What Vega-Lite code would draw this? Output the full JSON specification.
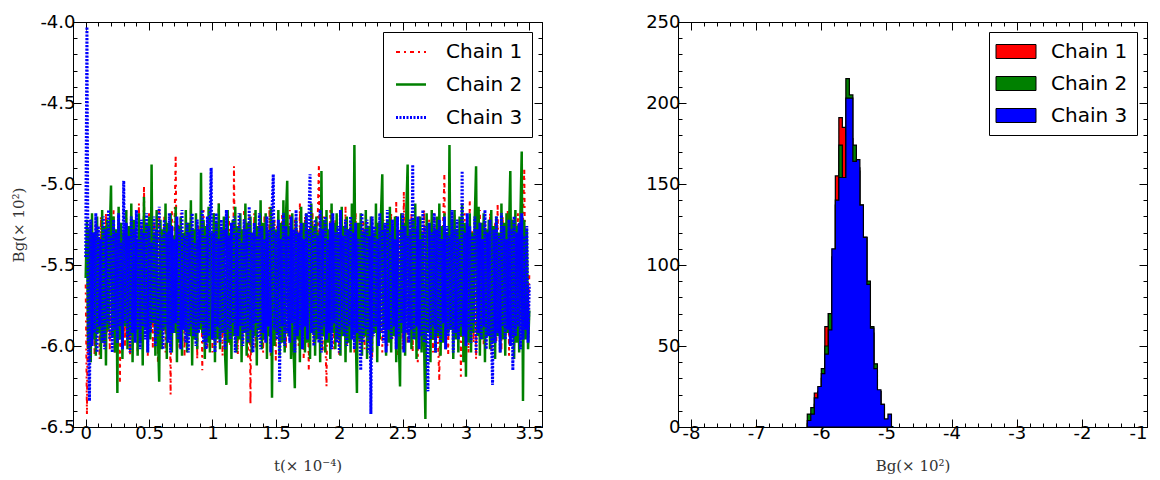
{
"$schema": "https://vega.github.io/schema/vega-lite/v6.json",
"background": "white",
"padding": {"left": 10, "top": 12, "right": 5, "bottom": 5},
"bounds": "flush",
"spacing": 136,
"resolve": {"scale": {"color": "independent", "fill": "independent", "strokeDash": "independent", "strokeWidth": "independent"}, "legend": {"color": "independent", "fill": "independent", "strokeDash": "independent", "strokeWidth": "independent"}},
"config": {
  "view": {"stroke": "black", "strokeWidth": 1},
  "axis": {"domain": false, "grid": false, "labelFont": "DejaVu Sans", "labelFontSize": 18, "labelColor": "black", "tickColor": "black", "tickWidth": 1, "titleFont": "DejaVu Serif", "titleFontSize": 15, "titleFontWeight": "normal", "titleColor": "#333333"}
},
"datasets": {
"trace": [
{"c":"Chain 1","t":0,"v":-5.62},{"c":"Chain 1","t":0.01,"v":-6.42},{"c":"Chain 1","t":0.02,"v":-5.30},{"c":"Chain 1","t":0.03,"v":-6.10},{"c":"Chain 1","t":0.04,"v":-5.22},{"c":"Chain 1","t":0.05,"v":-5.95},{"c":"Chain 1","t":0.06,"v":-5.40},{"c":"Chain 1","t":0.07,"v":-6.05},{"c":"Chain 1","t":0.08,"v":-5.25},{"c":"Chain 1","t":0.09,"v":-5.90},
{"c":"Chain 1","t":0.1,"v":-5.35},{"c":"Chain 1","t":0.11,"v":-6.08},{"c":"Chain 1","t":0.12,"v":-5.20},{"c":"Chain 1","t":0.13,"v":-5.85},{"c":"Chain 1","t":0.14,"v":-5.32},{"c":"Chain 1","t":0.15,"v":-6.00},{"c":"Chain 1","t":0.16,"v":-5.18},{"c":"Chain 1","t":0.17,"v":-5.92},{"c":"Chain 1","t":0.18,"v":-5.38},{"c":"Chain 1","t":0.19,"v":-6.02},
{"c":"Chain 1","t":0.2,"v":-5.26},{"c":"Chain 1","t":0.21,"v":-5.88},{"c":"Chain 1","t":0.22,"v":-5.15},{"c":"Chain 1","t":0.23,"v":-6.05},{"c":"Chain 1","t":0.24,"v":-5.30},{"c":"Chain 1","t":0.25,"v":-5.96},{"c":"Chain 1","t":0.26,"v":-5.22},{"c":"Chain 1","t":0.27,"v":-6.23},{"c":"Chain 1","t":0.28,"v":-5.40},{"c":"Chain 1","t":0.29,"v":-5.90},
{"c":"Chain 1","t":0.3,"v":-5.28},{"c":"Chain 1","t":0.31,"v":-6.00},{"c":"Chain 1","t":0.32,"v":-5.16},{"c":"Chain 1","t":0.33,"v":-5.86},{"c":"Chain 1","t":0.34,"v":-5.34},{"c":"Chain 1","t":0.35,"v":-6.06},{"c":"Chain 1","t":0.36,"v":-5.20},{"c":"Chain 1","t":0.37,"v":-5.94},{"c":"Chain 1","t":0.38,"v":-5.26},{"c":"Chain 1","t":0.39,"v":-5.84},
{"c":"Chain 1","t":0.4,"v":-5.32},{"c":"Chain 1","t":0.41,"v":-6.04},{"c":"Chain 1","t":0.42,"v":-5.12},{"c":"Chain 1","t":0.43,"v":-5.92},{"c":"Chain 1","t":0.44,"v":-5.24},{"c":"Chain 1","t":0.45,"v":-5.98},{"c":"Chain 1","t":0.46,"v":-5.01},{"c":"Chain 1","t":0.47,"v":-5.88},{"c":"Chain 1","t":0.48,"v":-5.30},{"c":"Chain 1","t":0.49,"v":-6.06},
{"c":"Chain 1","t":0.5,"v":-5.18},{"c":"Chain 1","t":0.51,"v":-5.90},{"c":"Chain 1","t":0.52,"v":-5.36},{"c":"Chain 1","t":0.53,"v":-6.02},{"c":"Chain 1","t":0.54,"v":-5.22},{"c":"Chain 1","t":0.55,"v":-5.86},{"c":"Chain 1","t":0.56,"v":-5.28},{"c":"Chain 1","t":0.57,"v":-6.10},{"c":"Chain 1","t":0.58,"v":-5.15},{"c":"Chain 1","t":0.59,"v":-5.96},
{"c":"Chain 1","t":0.6,"v":-5.34},{"c":"Chain 1","t":0.61,"v":-5.88},{"c":"Chain 1","t":0.62,"v":-5.20},{"c":"Chain 1","t":0.63,"v":-6.04},{"c":"Chain 1","t":0.64,"v":-5.26},{"c":"Chain 1","t":0.65,"v":-5.94},{"c":"Chain 1","t":0.66,"v":-5.38},{"c":"Chain 1","t":0.67,"v":-6.30},{"c":"Chain 1","t":0.68,"v":-5.16},{"c":"Chain 1","t":0.69,"v":-5.92},
{"c":"Chain 1","t":0.7,"v":-5.30},{"c":"Chain 1","t":0.71,"v":-4.82},{"c":"Chain 1","t":0.72,"v":-5.74},{"c":"Chain 1","t":0.73,"v":-5.24},{"c":"Chain 1","t":0.74,"v":-6.02},{"c":"Chain 1","t":0.75,"v":-5.18},{"c":"Chain 1","t":0.76,"v":-5.90},{"c":"Chain 1","t":0.77,"v":-5.36},{"c":"Chain 1","t":0.78,"v":-6.06},{"c":"Chain 1","t":0.79,"v":-5.22},
{"c":"Chain 1","t":0.8,"v":-5.96},{"c":"Chain 1","t":0.81,"v":-5.28},{"c":"Chain 1","t":0.82,"v":-5.86},{"c":"Chain 1","t":0.83,"v":-5.14},{"c":"Chain 1","t":0.84,"v":-6.00},{"c":"Chain 1","t":0.85,"v":-5.32},{"c":"Chain 1","t":0.86,"v":-5.92},{"c":"Chain 1","t":0.87,"v":-5.20},{"c":"Chain 1","t":0.88,"v":-6.08},{"c":"Chain 1","t":0.89,"v":-5.26},
{"c":"Chain 1","t":0.9,"v":-5.88},{"c":"Chain 1","t":0.91,"v":-5.40},{"c":"Chain 1","t":0.92,"v":-6.15},{"c":"Chain 1","t":0.93,"v":-5.16},{"c":"Chain 1","t":0.94,"v":-5.94},{"c":"Chain 1","t":0.95,"v":-5.30},{"c":"Chain 1","t":0.96,"v":-6.02},{"c":"Chain 1","t":0.97,"v":-5.22},{"c":"Chain 1","t":0.98,"v":-5.86},{"c":"Chain 1","t":0.99,"v":-5.34},
{"c":"Chain 1","t":1,"v":-6.04},{"c":"Chain 1","t":1.01,"v":-5.18},{"c":"Chain 1","t":1.02,"v":-5.92},{"c":"Chain 1","t":1.03,"v":-5.28},{"c":"Chain 1","t":1.04,"v":-5.98},{"c":"Chain 1","t":1.05,"v":-5.12},{"c":"Chain 1","t":1.06,"v":-5.88},{"c":"Chain 1","t":1.07,"v":-5.36},{"c":"Chain 1","t":1.08,"v":-6.06},{"c":"Chain 1","t":1.09,"v":-5.24},
{"c":"Chain 1","t":1.1,"v":-5.94},{"c":"Chain 1","t":1.11,"v":-5.30},{"c":"Chain 1","t":1.12,"v":-5.86},{"c":"Chain 1","t":1.13,"v":-5.20},{"c":"Chain 1","t":1.14,"v":-6.00},{"c":"Chain 1","t":1.15,"v":-5.26},{"c":"Chain 1","t":1.16,"v":-5.90},{"c":"Chain 1","t":1.17,"v":-4.89},{"c":"Chain 1","t":1.18,"v":-5.84},{"c":"Chain 1","t":1.19,"v":-5.32},
{"c":"Chain 1","t":1.2,"v":-6.05},{"c":"Chain 1","t":1.21,"v":-5.22},{"c":"Chain 1","t":1.22,"v":-5.92},{"c":"Chain 1","t":1.23,"v":-5.34},{"c":"Chain 1","t":1.24,"v":-5.98},{"c":"Chain 1","t":1.25,"v":-5.16},{"c":"Chain 1","t":1.26,"v":-5.88},{"c":"Chain 1","t":1.27,"v":-5.28},{"c":"Chain 1","t":1.28,"v":-6.08},{"c":"Chain 1","t":1.29,"v":-5.20},
{"c":"Chain 1","t":1.3,"v":-6.36},{"c":"Chain 1","t":1.31,"v":-5.40},{"c":"Chain 1","t":1.32,"v":-5.90},{"c":"Chain 1","t":1.33,"v":-5.18},{"c":"Chain 1","t":1.34,"v":-6.02},{"c":"Chain 1","t":1.35,"v":-5.30},{"c":"Chain 1","t":1.36,"v":-5.86},{"c":"Chain 1","t":1.37,"v":-5.24},{"c":"Chain 1","t":1.38,"v":-5.96},{"c":"Chain 1","t":1.39,"v":-5.36},
{"c":"Chain 1","t":1.4,"v":-6.04},{"c":"Chain 1","t":1.41,"v":-5.20},{"c":"Chain 1","t":1.42,"v":-5.92},{"c":"Chain 1","t":1.43,"v":-5.28},{"c":"Chain 1","t":1.44,"v":-5.88},{"c":"Chain 1","t":1.45,"v":-5.14},{"c":"Chain 1","t":1.46,"v":-6.06},{"c":"Chain 1","t":1.47,"v":-5.32},{"c":"Chain 1","t":1.48,"v":-5.94},{"c":"Chain 1","t":1.49,"v":-5.22},
{"c":"Chain 1","t":1.5,"v":-6.10},{"c":"Chain 1","t":1.51,"v":-5.26},{"c":"Chain 1","t":1.52,"v":-5.86},{"c":"Chain 1","t":1.53,"v":-5.38},{"c":"Chain 1","t":1.54,"v":-5.98},{"c":"Chain 1","t":1.55,"v":-5.18},{"c":"Chain 1","t":1.56,"v":-5.90},{"c":"Chain 1","t":1.57,"v":-5.30},{"c":"Chain 1","t":1.58,"v":-6.02},{"c":"Chain 1","t":1.59,"v":-5.24},
{"c":"Chain 1","t":1.6,"v":-5.94},{"c":"Chain 1","t":1.61,"v":-5.16},{"c":"Chain 1","t":1.62,"v":-5.88},{"c":"Chain 1","t":1.63,"v":-5.34},{"c":"Chain 1","t":1.64,"v":-6.06},{"c":"Chain 1","t":1.65,"v":-5.22},{"c":"Chain 1","t":1.66,"v":-5.92},{"c":"Chain 1","t":1.67,"v":-5.28},{"c":"Chain 1","t":1.68,"v":-6.00},{"c":"Chain 1","t":1.69,"v":-5.12},
{"c":"Chain 1","t":1.7,"v":-5.86},{"c":"Chain 1","t":1.71,"v":-5.30},{"c":"Chain 1","t":1.72,"v":-6.08},{"c":"Chain 1","t":1.73,"v":-5.20},{"c":"Chain 1","t":1.74,"v":-5.94},{"c":"Chain 1","t":1.75,"v":-5.36},{"c":"Chain 1","t":1.76,"v":-6.15},{"c":"Chain 1","t":1.77,"v":-5.26},{"c":"Chain 1","t":1.78,"v":-5.90},{"c":"Chain 1","t":1.79,"v":-5.18},
{"c":"Chain 1","t":1.8,"v":-6.00},{"c":"Chain 1","t":1.81,"v":-5.32},{"c":"Chain 1","t":1.82,"v":-5.88},{"c":"Chain 1","t":1.83,"v":-5.24},{"c":"Chain 1","t":1.84,"v":-4.88},{"c":"Chain 1","t":1.85,"v":-5.82},{"c":"Chain 1","t":1.86,"v":-5.30},{"c":"Chain 1","t":1.87,"v":-6.04},{"c":"Chain 1","t":1.88,"v":-5.20},{"c":"Chain 1","t":1.89,"v":-5.92},
{"c":"Chain 1","t":1.9,"v":-6.25},{"c":"Chain 1","t":1.91,"v":-5.28},{"c":"Chain 1","t":1.92,"v":-5.96},{"c":"Chain 1","t":1.93,"v":-5.16},{"c":"Chain 1","t":1.94,"v":-5.86},{"c":"Chain 1","t":1.95,"v":-5.34},{"c":"Chain 1","t":1.96,"v":-6.02},{"c":"Chain 1","t":1.97,"v":-5.22},{"c":"Chain 1","t":1.98,"v":-5.90},{"c":"Chain 1","t":1.99,"v":-5.30},
{"c":"Chain 1","t":2,"v":-6.06},{"c":"Chain 1","t":2.01,"v":-5.20},{"c":"Chain 1","t":2.02,"v":-5.92},{"c":"Chain 1","t":2.03,"v":-5.36},{"c":"Chain 1","t":2.04,"v":-5.88},{"c":"Chain 1","t":2.05,"v":-5.14},{"c":"Chain 1","t":2.06,"v":-6.00},{"c":"Chain 1","t":2.07,"v":-5.28},{"c":"Chain 1","t":2.08,"v":-5.94},{"c":"Chain 1","t":2.09,"v":-5.24},
{"c":"Chain 1","t":2.1,"v":-5.86},{"c":"Chain 1","t":2.11,"v":-5.32},{"c":"Chain 1","t":2.12,"v":-6.04},{"c":"Chain 1","t":2.13,"v":-5.18},{"c":"Chain 1","t":2.14,"v":-5.90},{"c":"Chain 1","t":2.15,"v":-5.26},{"c":"Chain 1","t":2.16,"v":-5.98},{"c":"Chain 1","t":2.17,"v":-5.38},{"c":"Chain 1","t":2.18,"v":-5.88},{"c":"Chain 1","t":2.19,"v":-5.22},
{"c":"Chain 1","t":2.2,"v":-6.02},{"c":"Chain 1","t":2.21,"v":-5.16},{"c":"Chain 1","t":2.22,"v":-5.94},{"c":"Chain 1","t":2.23,"v":-5.30},{"c":"Chain 1","t":2.24,"v":-5.86},{"c":"Chain 1","t":2.25,"v":-5.24},{"c":"Chain 1","t":2.26,"v":-6.08},{"c":"Chain 1","t":2.27,"v":-5.34},{"c":"Chain 1","t":2.28,"v":-5.92},{"c":"Chain 1","t":2.29,"v":-5.20},
{"c":"Chain 1","t":2.3,"v":-5.98},{"c":"Chain 1","t":2.31,"v":-5.28},{"c":"Chain 1","t":2.32,"v":-5.88},{"c":"Chain 1","t":2.33,"v":-5.14},{"c":"Chain 1","t":2.34,"v":-6.04},{"c":"Chain 1","t":2.35,"v":-5.22},{"c":"Chain 1","t":2.36,"v":-5.90},{"c":"Chain 1","t":2.37,"v":-5.36},{"c":"Chain 1","t":2.38,"v":-6.00},{"c":"Chain 1","t":2.39,"v":-5.26},
{"c":"Chain 1","t":2.4,"v":-5.86},{"c":"Chain 1","t":2.41,"v":-5.18},{"c":"Chain 1","t":2.42,"v":-5.96},{"c":"Chain 1","t":2.43,"v":-5.30},{"c":"Chain 1","t":2.44,"v":-5.92},{"c":"Chain 1","t":2.45,"v":-5.10},{"c":"Chain 1","t":2.46,"v":-6.06},{"c":"Chain 1","t":2.47,"v":-5.28},{"c":"Chain 1","t":2.48,"v":-5.88},{"c":"Chain 1","t":2.49,"v":-5.34},
{"c":"Chain 1","t":2.5,"v":-6.02},{"c":"Chain 1","t":2.51,"v":-5.05},{"c":"Chain 1","t":2.52,"v":-5.90},{"c":"Chain 1","t":2.53,"v":-5.24},{"c":"Chain 1","t":2.54,"v":-5.98},{"c":"Chain 1","t":2.55,"v":-5.30},{"c":"Chain 1","t":2.56,"v":-5.86},{"c":"Chain 1","t":2.57,"v":-5.18},{"c":"Chain 1","t":2.58,"v":-6.04},{"c":"Chain 1","t":2.59,"v":-5.26},
{"c":"Chain 1","t":2.6,"v":-5.92},{"c":"Chain 1","t":2.61,"v":-5.36},{"c":"Chain 1","t":2.62,"v":-6.10},{"c":"Chain 1","t":2.63,"v":-5.20},{"c":"Chain 1","t":2.64,"v":-5.88},{"c":"Chain 1","t":2.65,"v":-5.28},{"c":"Chain 1","t":2.66,"v":-5.96},{"c":"Chain 1","t":2.67,"v":-5.16},{"c":"Chain 1","t":2.68,"v":-6.02},{"c":"Chain 1","t":2.69,"v":-5.32},
{"c":"Chain 1","t":2.7,"v":-5.90},{"c":"Chain 1","t":2.71,"v":-5.22},{"c":"Chain 1","t":2.72,"v":-5.86},{"c":"Chain 1","t":2.73,"v":-5.34},{"c":"Chain 1","t":2.74,"v":-6.04},{"c":"Chain 1","t":2.75,"v":-5.18},{"c":"Chain 1","t":2.76,"v":-5.94},{"c":"Chain 1","t":2.77,"v":-5.26},{"c":"Chain 1","t":2.78,"v":-5.98},{"c":"Chain 1","t":2.79,"v":-6.21},
{"c":"Chain 1","t":2.8,"v":-5.30},{"c":"Chain 1","t":2.81,"v":-5.92},{"c":"Chain 1","t":2.82,"v":-5.24},{"c":"Chain 1","t":2.83,"v":-4.94},{"c":"Chain 1","t":2.84,"v":-5.86},{"c":"Chain 1","t":2.85,"v":-5.36},{"c":"Chain 1","t":2.86,"v":-6.06},{"c":"Chain 1","t":2.87,"v":-5.20},{"c":"Chain 1","t":2.88,"v":-5.90},{"c":"Chain 1","t":2.89,"v":-5.28},
{"c":"Chain 1","t":2.9,"v":-6.02},{"c":"Chain 1","t":2.91,"v":-5.16},{"c":"Chain 1","t":2.92,"v":-5.94},{"c":"Chain 1","t":2.93,"v":-5.32},{"c":"Chain 1","t":2.94,"v":-5.88},{"c":"Chain 1","t":2.95,"v":-5.22},{"c":"Chain 1","t":2.96,"v":-6.19},{"c":"Chain 1","t":2.97,"v":-5.30},{"c":"Chain 1","t":2.98,"v":-5.96},{"c":"Chain 1","t":2.99,"v":-5.18},
{"c":"Chain 1","t":3,"v":-5.90},{"c":"Chain 1","t":3.01,"v":-5.34},{"c":"Chain 1","t":3.02,"v":-6.04},{"c":"Chain 1","t":3.03,"v":-5.10},{"c":"Chain 1","t":3.04,"v":-5.86},{"c":"Chain 1","t":3.05,"v":-5.28},{"c":"Chain 1","t":3.06,"v":-5.98},{"c":"Chain 1","t":3.07,"v":-5.20},{"c":"Chain 1","t":3.08,"v":-6.08},{"c":"Chain 1","t":3.09,"v":-5.26},
{"c":"Chain 1","t":3.1,"v":-5.92},{"c":"Chain 1","t":3.11,"v":-5.16},{"c":"Chain 1","t":3.12,"v":-5.88},{"c":"Chain 1","t":3.13,"v":-5.36},{"c":"Chain 1","t":3.14,"v":-6.00},{"c":"Chain 1","t":3.15,"v":-5.22},{"c":"Chain 1","t":3.16,"v":-5.94},{"c":"Chain 1","t":3.17,"v":-5.30},{"c":"Chain 1","t":3.18,"v":-5.86},{"c":"Chain 1","t":3.19,"v":-5.18},
{"c":"Chain 1","t":3.2,"v":-6.05},{"c":"Chain 1","t":3.21,"v":-5.28},{"c":"Chain 1","t":3.22,"v":-5.90},{"c":"Chain 1","t":3.23,"v":-5.24},{"c":"Chain 1","t":3.24,"v":-5.98},{"c":"Chain 1","t":3.25,"v":-5.12},{"c":"Chain 1","t":3.26,"v":-5.86},{"c":"Chain 1","t":3.27,"v":-5.34},{"c":"Chain 1","t":3.28,"v":-6.02},{"c":"Chain 1","t":3.29,"v":-5.20},
{"c":"Chain 1","t":3.3,"v":-5.94},{"c":"Chain 1","t":3.31,"v":-5.30},{"c":"Chain 1","t":3.32,"v":-5.88},{"c":"Chain 1","t":3.33,"v":-5.16},{"c":"Chain 1","t":3.34,"v":-6.06},{"c":"Chain 1","t":3.35,"v":-5.26},{"c":"Chain 1","t":3.36,"v":-5.92},{"c":"Chain 1","t":3.37,"v":-5.22},{"c":"Chain 1","t":3.38,"v":-6.00},{"c":"Chain 1","t":3.39,"v":-5.32},
{"c":"Chain 1","t":3.4,"v":-5.86},{"c":"Chain 1","t":3.41,"v":-5.18},{"c":"Chain 1","t":3.42,"v":-5.96},{"c":"Chain 1","t":3.43,"v":-5.28},{"c":"Chain 1","t":3.44,"v":-5.90},{"c":"Chain 1","t":3.45,"v":-5.24},{"c":"Chain 1","t":3.46,"v":-4.90},{"c":"Chain 1","t":3.47,"v":-5.84},{"c":"Chain 1","t":3.48,"v":-5.30},{"c":"Chain 1","t":3.49,"v":-5.92},
{"c":"Chain 1","t":3.5,"v":-5.55},
{"c":"Chain 2","t":0,"v":-5.58},{"c":"Chain 2","t":0.01,"v":-5.22},{"c":"Chain 2","t":0.02,"v":-6.02},{"c":"Chain 2","t":0.03,"v":-5.28},{"c":"Chain 2","t":0.04,"v":-6.10},{"c":"Chain 2","t":0.05,"v":-5.18},{"c":"Chain 2","t":0.06,"v":-5.96},{"c":"Chain 2","t":0.07,"v":-5.30},{"c":"Chain 2","t":0.08,"v":-6.06},{"c":"Chain 2","t":0.09,"v":-5.20},
{"c":"Chain 2","t":0.1,"v":-5.92},{"c":"Chain 2","t":0.11,"v":-5.34},{"c":"Chain 2","t":0.12,"v":-6.08},{"c":"Chain 2","t":0.13,"v":-5.16},{"c":"Chain 2","t":0.14,"v":-5.98},{"c":"Chain 2","t":0.15,"v":-5.26},{"c":"Chain 2","t":0.16,"v":-6.12},{"c":"Chain 2","t":0.17,"v":-5.22},{"c":"Chain 2","t":0.18,"v":-5.90},{"c":"Chain 2","t":0.19,"v":-5.30},
{"c":"Chain 2","t":0.2,"v":-5.01},{"c":"Chain 2","t":0.21,"v":-5.94},{"c":"Chain 2","t":0.22,"v":-5.20},{"c":"Chain 2","t":0.23,"v":-6.04},{"c":"Chain 2","t":0.24,"v":-5.28},{"c":"Chain 2","t":0.25,"v":-6.29},{"c":"Chain 2","t":0.26,"v":-5.14},{"c":"Chain 2","t":0.27,"v":-5.96},{"c":"Chain 2","t":0.28,"v":-5.24},{"c":"Chain 2","t":0.29,"v":-6.08},
{"c":"Chain 2","t":0.3,"v":-5.30},{"c":"Chain 2","t":0.31,"v":-5.88},{"c":"Chain 2","t":0.32,"v":-5.16},{"c":"Chain 2","t":0.33,"v":-6.02},{"c":"Chain 2","t":0.34,"v":-5.26},{"c":"Chain 2","t":0.35,"v":-5.94},{"c":"Chain 2","t":0.36,"v":-5.12},{"c":"Chain 2","t":0.37,"v":-6.10},{"c":"Chain 2","t":0.38,"v":-5.22},{"c":"Chain 2","t":0.39,"v":-5.92},
{"c":"Chain 2","t":0.4,"v":-5.34},{"c":"Chain 2","t":0.41,"v":-6.06},{"c":"Chain 2","t":0.42,"v":-5.18},{"c":"Chain 2","t":0.43,"v":-5.98},{"c":"Chain 2","t":0.44,"v":-5.28},{"c":"Chain 2","t":0.45,"v":-6.12},{"c":"Chain 2","t":0.46,"v":-5.08},{"c":"Chain 2","t":0.47,"v":-5.90},{"c":"Chain 2","t":0.48,"v":-5.24},{"c":"Chain 2","t":0.49,"v":-6.04},
{"c":"Chain 2","t":0.5,"v":-5.20},{"c":"Chain 2","t":0.51,"v":-5.96},{"c":"Chain 2","t":0.52,"v":-4.88},{"c":"Chain 2","t":0.53,"v":-5.86},{"c":"Chain 2","t":0.54,"v":-5.30},{"c":"Chain 2","t":0.55,"v":-6.06},{"c":"Chain 2","t":0.56,"v":-5.16},{"c":"Chain 2","t":0.57,"v":-5.94},{"c":"Chain 2","t":0.58,"v":-6.22},{"c":"Chain 2","t":0.59,"v":-5.22},
{"c":"Chain 2","t":0.6,"v":-6.02},{"c":"Chain 2","t":0.61,"v":-5.28},{"c":"Chain 2","t":0.62,"v":-5.90},{"c":"Chain 2","t":0.63,"v":-5.12},{"c":"Chain 2","t":0.64,"v":-6.08},{"c":"Chain 2","t":0.65,"v":-5.24},{"c":"Chain 2","t":0.66,"v":-5.96},{"c":"Chain 2","t":0.67,"v":-5.18},{"c":"Chain 2","t":0.68,"v":-6.04},{"c":"Chain 2","t":0.69,"v":-5.32},
{"c":"Chain 2","t":0.7,"v":-5.92},{"c":"Chain 2","t":0.71,"v":-5.14},{"c":"Chain 2","t":0.72,"v":-6.10},{"c":"Chain 2","t":0.73,"v":-5.26},{"c":"Chain 2","t":0.74,"v":-5.98},{"c":"Chain 2","t":0.75,"v":-5.20},{"c":"Chain 2","t":0.76,"v":-6.06},{"c":"Chain 2","t":0.77,"v":-5.30},{"c":"Chain 2","t":0.78,"v":-5.90},{"c":"Chain 2","t":0.79,"v":-5.16},
{"c":"Chain 2","t":0.8,"v":-6.04},{"c":"Chain 2","t":0.81,"v":-5.24},{"c":"Chain 2","t":0.82,"v":-5.94},{"c":"Chain 2","t":0.83,"v":-5.10},{"c":"Chain 2","t":0.84,"v":-6.12},{"c":"Chain 2","t":0.85,"v":-5.28},{"c":"Chain 2","t":0.86,"v":-5.96},{"c":"Chain 2","t":0.87,"v":-5.18},{"c":"Chain 2","t":0.88,"v":-6.02},{"c":"Chain 2","t":0.89,"v":-5.34},
{"c":"Chain 2","t":0.9,"v":-5.90},{"c":"Chain 2","t":0.91,"v":-4.93},{"c":"Chain 2","t":0.92,"v":-5.92},{"c":"Chain 2","t":0.93,"v":-5.22},{"c":"Chain 2","t":0.94,"v":-6.08},{"c":"Chain 2","t":0.95,"v":-5.26},{"c":"Chain 2","t":0.96,"v":-5.98},{"c":"Chain 2","t":0.97,"v":-5.14},{"c":"Chain 2","t":0.98,"v":-6.04},{"c":"Chain 2","t":0.99,"v":-5.30},
{"c":"Chain 2","t":1,"v":-5.94},{"c":"Chain 2","t":1.01,"v":-5.18},{"c":"Chain 2","t":1.02,"v":-6.10},{"c":"Chain 2","t":1.03,"v":-5.24},{"c":"Chain 2","t":1.04,"v":-5.96},{"c":"Chain 2","t":1.05,"v":-5.12},{"c":"Chain 2","t":1.06,"v":-6.02},{"c":"Chain 2","t":1.07,"v":-5.28},{"c":"Chain 2","t":1.08,"v":-5.92},{"c":"Chain 2","t":1.09,"v":-5.20},
{"c":"Chain 2","t":1.1,"v":-6.06},{"c":"Chain 2","t":1.11,"v":-6.24},{"c":"Chain 2","t":1.12,"v":-5.16},{"c":"Chain 2","t":1.13,"v":-5.98},{"c":"Chain 2","t":1.14,"v":-5.30},{"c":"Chain 2","t":1.15,"v":-6.08},{"c":"Chain 2","t":1.16,"v":-5.22},{"c":"Chain 2","t":1.17,"v":-5.94},{"c":"Chain 2","t":1.18,"v":-5.14},{"c":"Chain 2","t":1.19,"v":-6.04},
{"c":"Chain 2","t":1.2,"v":-5.26},{"c":"Chain 2","t":1.21,"v":-5.96},{"c":"Chain 2","t":1.22,"v":-5.18},{"c":"Chain 2","t":1.23,"v":-6.10},{"c":"Chain 2","t":1.24,"v":-5.28},{"c":"Chain 2","t":1.25,"v":-5.92},{"c":"Chain 2","t":1.26,"v":-5.12},{"c":"Chain 2","t":1.27,"v":-6.06},{"c":"Chain 2","t":1.28,"v":-5.24},{"c":"Chain 2","t":1.29,"v":-5.98},
{"c":"Chain 2","t":1.3,"v":-5.20},{"c":"Chain 2","t":1.31,"v":-6.04},{"c":"Chain 2","t":1.32,"v":-5.30},{"c":"Chain 2","t":1.33,"v":-5.94},{"c":"Chain 2","t":1.34,"v":-5.16},{"c":"Chain 2","t":1.35,"v":-6.12},{"c":"Chain 2","t":1.36,"v":-5.26},{"c":"Chain 2","t":1.37,"v":-5.90},{"c":"Chain 2","t":1.38,"v":-5.10},{"c":"Chain 2","t":1.39,"v":-6.02},
{"c":"Chain 2","t":1.4,"v":-5.24},{"c":"Chain 2","t":1.41,"v":-5.96},{"c":"Chain 2","t":1.42,"v":-5.18},{"c":"Chain 2","t":1.43,"v":-6.08},{"c":"Chain 2","t":1.44,"v":-5.30},{"c":"Chain 2","t":1.45,"v":-5.94},{"c":"Chain 2","t":1.46,"v":-5.14},{"c":"Chain 2","t":1.47,"v":-6.32},{"c":"Chain 2","t":1.48,"v":-5.22},{"c":"Chain 2","t":1.49,"v":-6.00},
{"c":"Chain 2","t":1.5,"v":-5.28},{"c":"Chain 2","t":1.51,"v":-5.92},{"c":"Chain 2","t":1.52,"v":-5.16},{"c":"Chain 2","t":1.53,"v":-6.06},{"c":"Chain 2","t":1.54,"v":-5.24},{"c":"Chain 2","t":1.55,"v":-5.98},{"c":"Chain 2","t":1.56,"v":-5.10},{"c":"Chain 2","t":1.57,"v":-6.04},{"c":"Chain 2","t":1.58,"v":-5.20},{"c":"Chain 2","t":1.59,"v":-4.98},
{"c":"Chain 2","t":1.6,"v":-5.94},{"c":"Chain 2","t":1.61,"v":-5.26},{"c":"Chain 2","t":1.62,"v":-6.08},{"c":"Chain 2","t":1.63,"v":-5.18},{"c":"Chain 2","t":1.64,"v":-6.02},{"c":"Chain 2","t":1.65,"v":-6.26},{"c":"Chain 2","t":1.66,"v":-5.22},{"c":"Chain 2","t":1.67,"v":-5.96},{"c":"Chain 2","t":1.68,"v":-5.30},{"c":"Chain 2","t":1.69,"v":-6.10},
{"c":"Chain 2","t":1.7,"v":-5.14},{"c":"Chain 2","t":1.71,"v":-5.94},{"c":"Chain 2","t":1.72,"v":-5.24},{"c":"Chain 2","t":1.73,"v":-6.04},{"c":"Chain 2","t":1.74,"v":-5.18},{"c":"Chain 2","t":1.75,"v":-5.98},{"c":"Chain 2","t":1.76,"v":-5.28},{"c":"Chain 2","t":1.77,"v":-6.08},{"c":"Chain 2","t":1.78,"v":-5.12},{"c":"Chain 2","t":1.79,"v":-5.92},
{"c":"Chain 2","t":1.8,"v":-5.26},{"c":"Chain 2","t":1.81,"v":-6.06},{"c":"Chain 2","t":1.82,"v":-5.20},{"c":"Chain 2","t":1.83,"v":-5.96},{"c":"Chain 2","t":1.84,"v":-5.30},{"c":"Chain 2","t":1.85,"v":-6.10},{"c":"Chain 2","t":1.86,"v":-4.92},{"c":"Chain 2","t":1.87,"v":-5.94},{"c":"Chain 2","t":1.88,"v":-5.22},{"c":"Chain 2","t":1.89,"v":-6.04},
{"c":"Chain 2","t":1.9,"v":-5.16},{"c":"Chain 2","t":1.91,"v":-5.98},{"c":"Chain 2","t":1.92,"v":-5.28},{"c":"Chain 2","t":1.93,"v":-6.08},{"c":"Chain 2","t":1.94,"v":-5.12},{"c":"Chain 2","t":1.95,"v":-5.92},{"c":"Chain 2","t":1.96,"v":-5.24},{"c":"Chain 2","t":1.97,"v":-6.02},{"c":"Chain 2","t":1.98,"v":-5.18},{"c":"Chain 2","t":1.99,"v":-5.96},
{"c":"Chain 2","t":2,"v":-5.30},{"c":"Chain 2","t":2.01,"v":-6.06},{"c":"Chain 2","t":2.02,"v":-5.14},{"c":"Chain 2","t":2.03,"v":-5.94},{"c":"Chain 2","t":2.04,"v":-5.26},{"c":"Chain 2","t":2.05,"v":-6.10},{"c":"Chain 2","t":2.06,"v":-5.20},{"c":"Chain 2","t":2.07,"v":-5.98},{"c":"Chain 2","t":2.08,"v":-5.28},{"c":"Chain 2","t":2.09,"v":-6.04},
{"c":"Chain 2","t":2.1,"v":-5.12},{"c":"Chain 2","t":2.11,"v":-5.92},{"c":"Chain 2","t":2.12,"v":-4.76},{"c":"Chain 2","t":2.13,"v":-5.90},{"c":"Chain 2","t":2.14,"v":-6.29},{"c":"Chain 2","t":2.15,"v":-5.24},{"c":"Chain 2","t":2.16,"v":-5.96},{"c":"Chain 2","t":2.17,"v":-5.18},{"c":"Chain 2","t":2.18,"v":-6.06},{"c":"Chain 2","t":2.19,"v":-5.30},
{"c":"Chain 2","t":2.2,"v":-5.94},{"c":"Chain 2","t":2.21,"v":-5.16},{"c":"Chain 2","t":2.22,"v":-6.08},{"c":"Chain 2","t":2.23,"v":-5.26},{"c":"Chain 2","t":2.24,"v":-5.98},{"c":"Chain 2","t":2.25,"v":-5.20},{"c":"Chain 2","t":2.26,"v":-6.04},{"c":"Chain 2","t":2.27,"v":-5.30},{"c":"Chain 2","t":2.28,"v":-5.92},{"c":"Chain 2","t":2.29,"v":-5.12},
{"c":"Chain 2","t":2.3,"v":-6.10},{"c":"Chain 2","t":2.31,"v":-5.24},{"c":"Chain 2","t":2.32,"v":-5.96},{"c":"Chain 2","t":2.33,"v":-5.18},{"c":"Chain 2","t":2.34,"v":-4.94},{"c":"Chain 2","t":2.35,"v":-5.90},{"c":"Chain 2","t":2.36,"v":-5.28},{"c":"Chain 2","t":2.37,"v":-6.06},{"c":"Chain 2","t":2.38,"v":-5.22},{"c":"Chain 2","t":2.39,"v":-5.98},
{"c":"Chain 2","t":2.4,"v":-5.14},{"c":"Chain 2","t":2.41,"v":-6.04},{"c":"Chain 2","t":2.42,"v":-5.26},{"c":"Chain 2","t":2.43,"v":-5.94},{"c":"Chain 2","t":2.44,"v":-5.20},{"c":"Chain 2","t":2.45,"v":-6.10},{"c":"Chain 2","t":2.46,"v":-5.30},{"c":"Chain 2","t":2.47,"v":-5.96},{"c":"Chain 2","t":2.48,"v":-6.25},{"c":"Chain 2","t":2.49,"v":-5.18},
{"c":"Chain 2","t":2.5,"v":-5.92},{"c":"Chain 2","t":2.51,"v":-5.24},{"c":"Chain 2","t":2.52,"v":-6.06},{"c":"Chain 2","t":2.53,"v":-5.16},{"c":"Chain 2","t":2.54,"v":-4.88},{"c":"Chain 2","t":2.55,"v":-5.88},{"c":"Chain 2","t":2.56,"v":-5.28},{"c":"Chain 2","t":2.57,"v":-6.02},{"c":"Chain 2","t":2.58,"v":-5.22},{"c":"Chain 2","t":2.59,"v":-5.96},
{"c":"Chain 2","t":2.6,"v":-5.12},{"c":"Chain 2","t":2.61,"v":-6.08},{"c":"Chain 2","t":2.62,"v":-5.26},{"c":"Chain 2","t":2.63,"v":-5.94},{"c":"Chain 2","t":2.64,"v":-5.20},{"c":"Chain 2","t":2.65,"v":-6.04},{"c":"Chain 2","t":2.66,"v":-5.30},{"c":"Chain 2","t":2.67,"v":-5.98},{"c":"Chain 2","t":2.68,"v":-6.45},{"c":"Chain 2","t":2.69,"v":-5.18},
{"c":"Chain 2","t":2.7,"v":-5.92},{"c":"Chain 2","t":2.71,"v":-5.24},{"c":"Chain 2","t":2.72,"v":-6.10},{"c":"Chain 2","t":2.73,"v":-5.16},{"c":"Chain 2","t":2.74,"v":-5.96},{"c":"Chain 2","t":2.75,"v":-5.28},{"c":"Chain 2","t":2.76,"v":-6.04},{"c":"Chain 2","t":2.77,"v":-5.20},{"c":"Chain 2","t":2.78,"v":-5.94},{"c":"Chain 2","t":2.79,"v":-5.12},
{"c":"Chain 2","t":2.8,"v":-6.06},{"c":"Chain 2","t":2.81,"v":-5.26},{"c":"Chain 2","t":2.82,"v":-5.98},{"c":"Chain 2","t":2.83,"v":-5.18},{"c":"Chain 2","t":2.84,"v":-6.02},{"c":"Chain 2","t":2.85,"v":-5.30},{"c":"Chain 2","t":2.86,"v":-5.92},{"c":"Chain 2","t":2.87,"v":-4.76},{"c":"Chain 2","t":2.88,"v":-5.90},{"c":"Chain 2","t":2.89,"v":-5.22},
{"c":"Chain 2","t":2.9,"v":-6.08},{"c":"Chain 2","t":2.91,"v":-5.16},{"c":"Chain 2","t":2.92,"v":-5.96},{"c":"Chain 2","t":2.93,"v":-5.28},{"c":"Chain 2","t":2.94,"v":-6.04},{"c":"Chain 2","t":2.95,"v":-5.20},{"c":"Chain 2","t":2.96,"v":-5.94},{"c":"Chain 2","t":2.97,"v":-5.12},{"c":"Chain 2","t":2.98,"v":-6.10},{"c":"Chain 2","t":2.99,"v":-5.24},
{"c":"Chain 2","t":3,"v":-6.19},{"c":"Chain 2","t":3.01,"v":-5.26},{"c":"Chain 2","t":3.02,"v":-5.98},{"c":"Chain 2","t":3.03,"v":-5.18},{"c":"Chain 2","t":3.04,"v":-6.04},{"c":"Chain 2","t":3.05,"v":-5.30},{"c":"Chain 2","t":3.06,"v":-5.92},{"c":"Chain 2","t":3.07,"v":-5.20},{"c":"Chain 2","t":3.08,"v":-4.89},{"c":"Chain 2","t":3.09,"v":-5.94},
{"c":"Chain 2","t":3.1,"v":-5.14},{"c":"Chain 2","t":3.11,"v":-6.06},{"c":"Chain 2","t":3.12,"v":-5.24},{"c":"Chain 2","t":3.13,"v":-5.96},{"c":"Chain 2","t":3.14,"v":-5.18},{"c":"Chain 2","t":3.15,"v":-6.10},{"c":"Chain 2","t":3.16,"v":-5.28},{"c":"Chain 2","t":3.17,"v":-5.94},{"c":"Chain 2","t":3.18,"v":-5.22},{"c":"Chain 2","t":3.19,"v":-6.02},
{"c":"Chain 2","t":3.2,"v":-5.16},{"c":"Chain 2","t":3.21,"v":-5.98},{"c":"Chain 2","t":3.22,"v":-5.26},{"c":"Chain 2","t":3.23,"v":-6.08},{"c":"Chain 2","t":3.24,"v":-5.20},{"c":"Chain 2","t":3.25,"v":-5.94},{"c":"Chain 2","t":3.26,"v":-5.30},{"c":"Chain 2","t":3.27,"v":-6.04},{"c":"Chain 2","t":3.28,"v":-5.12},{"c":"Chain 2","t":3.29,"v":-5.96},
{"c":"Chain 2","t":3.3,"v":-5.24},{"c":"Chain 2","t":3.31,"v":-6.06},{"c":"Chain 2","t":3.32,"v":-5.18},{"c":"Chain 2","t":3.33,"v":-5.92},{"c":"Chain 2","t":3.34,"v":-5.28},{"c":"Chain 2","t":3.35,"v":-4.92},{"c":"Chain 2","t":3.36,"v":-5.94},{"c":"Chain 2","t":3.37,"v":-5.22},{"c":"Chain 2","t":3.38,"v":-6.08},{"c":"Chain 2","t":3.39,"v":-5.16},
{"c":"Chain 2","t":3.4,"v":-5.98},{"c":"Chain 2","t":3.41,"v":-5.26},{"c":"Chain 2","t":3.42,"v":-6.04},{"c":"Chain 2","t":3.43,"v":-5.20},{"c":"Chain 2","t":3.44,"v":-4.80},{"c":"Chain 2","t":3.45,"v":-6.34},{"c":"Chain 2","t":3.46,"v":-5.22},{"c":"Chain 2","t":3.47,"v":-5.96},{"c":"Chain 2","t":3.48,"v":-5.28},{"c":"Chain 2","t":3.49,"v":-6.02},
{"c":"Chain 2","t":3.5,"v":-5.78},
{"c":"Chain 3","t":0,"v":-5.45},{"c":"Chain 3","t":0.01,"v":-4.03},{"c":"Chain 3","t":0.02,"v":-5.90},{"c":"Chain 3","t":0.03,"v":-6.34},{"c":"Chain 3","t":0.04,"v":-5.22},{"c":"Chain 3","t":0.05,"v":-6.00},{"c":"Chain 3","t":0.06,"v":-5.30},{"c":"Chain 3","t":0.07,"v":-5.92},{"c":"Chain 3","t":0.08,"v":-5.18},{"c":"Chain 3","t":0.09,"v":-6.04},
{"c":"Chain 3","t":0.1,"v":-5.26},{"c":"Chain 3","t":0.11,"v":-5.88},{"c":"Chain 3","t":0.12,"v":-5.34},{"c":"Chain 3","t":0.13,"v":-5.98},{"c":"Chain 3","t":0.14,"v":-5.20},{"c":"Chain 3","t":0.15,"v":-6.02},{"c":"Chain 3","t":0.16,"v":-5.28},{"c":"Chain 3","t":0.17,"v":-5.86},{"c":"Chain 3","t":0.18,"v":-5.16},{"c":"Chain 3","t":0.19,"v":-5.96},
{"c":"Chain 3","t":0.2,"v":-5.32},{"c":"Chain 3","t":0.21,"v":-6.04},{"c":"Chain 3","t":0.22,"v":-5.22},{"c":"Chain 3","t":0.23,"v":-5.90},{"c":"Chain 3","t":0.24,"v":-5.30},{"c":"Chain 3","t":0.25,"v":-5.98},{"c":"Chain 3","t":0.26,"v":-5.18},{"c":"Chain 3","t":0.27,"v":-5.88},{"c":"Chain 3","t":0.28,"v":-5.36},{"c":"Chain 3","t":0.29,"v":-6.02},
{"c":"Chain 3","t":0.3,"v":-4.98},{"c":"Chain 3","t":0.31,"v":-5.86},{"c":"Chain 3","t":0.32,"v":-5.24},{"c":"Chain 3","t":0.33,"v":-5.96},{"c":"Chain 3","t":0.34,"v":-5.32},{"c":"Chain 3","t":0.35,"v":-6.04},{"c":"Chain 3","t":0.36,"v":-5.20},{"c":"Chain 3","t":0.37,"v":-5.92},{"c":"Chain 3","t":0.38,"v":-5.28},{"c":"Chain 3","t":0.39,"v":-5.98},
{"c":"Chain 3","t":0.4,"v":-5.16},{"c":"Chain 3","t":0.41,"v":-5.90},{"c":"Chain 3","t":0.42,"v":-5.34},{"c":"Chain 3","t":0.43,"v":-6.02},{"c":"Chain 3","t":0.44,"v":-5.22},{"c":"Chain 3","t":0.45,"v":-5.88},{"c":"Chain 3","t":0.46,"v":-5.30},{"c":"Chain 3","t":0.47,"v":-5.96},{"c":"Chain 3","t":0.48,"v":-5.18},{"c":"Chain 3","t":0.49,"v":-6.04},
{"c":"Chain 3","t":0.5,"v":-5.26},{"c":"Chain 3","t":0.51,"v":-5.92},{"c":"Chain 3","t":0.52,"v":-5.36},{"c":"Chain 3","t":0.53,"v":-5.86},{"c":"Chain 3","t":0.54,"v":-5.20},{"c":"Chain 3","t":0.55,"v":-6.00},{"c":"Chain 3","t":0.56,"v":-5.28},{"c":"Chain 3","t":0.57,"v":-5.94},{"c":"Chain 3","t":0.58,"v":-5.14},{"c":"Chain 3","t":0.59,"v":-5.90},
{"c":"Chain 3","t":0.6,"v":-5.32},{"c":"Chain 3","t":0.61,"v":-6.02},{"c":"Chain 3","t":0.62,"v":-5.22},{"c":"Chain 3","t":0.63,"v":-5.88},{"c":"Chain 3","t":0.64,"v":-5.30},{"c":"Chain 3","t":0.65,"v":-5.98},{"c":"Chain 3","t":0.66,"v":-5.18},{"c":"Chain 3","t":0.67,"v":-6.04},{"c":"Chain 3","t":0.68,"v":-5.26},{"c":"Chain 3","t":0.69,"v":-5.92},
{"c":"Chain 3","t":0.7,"v":-5.34},{"c":"Chain 3","t":0.71,"v":-5.86},{"c":"Chain 3","t":0.72,"v":-5.20},{"c":"Chain 3","t":0.73,"v":-5.96},{"c":"Chain 3","t":0.74,"v":-5.28},{"c":"Chain 3","t":0.75,"v":-6.02},{"c":"Chain 3","t":0.76,"v":-5.16},{"c":"Chain 3","t":0.77,"v":-5.90},{"c":"Chain 3","t":0.78,"v":-5.32},{"c":"Chain 3","t":0.79,"v":-5.98},
{"c":"Chain 3","t":0.8,"v":-5.24},{"c":"Chain 3","t":0.81,"v":-6.04},{"c":"Chain 3","t":0.82,"v":-5.30},{"c":"Chain 3","t":0.83,"v":-5.88},{"c":"Chain 3","t":0.84,"v":-5.18},{"c":"Chain 3","t":0.85,"v":-5.94},{"c":"Chain 3","t":0.86,"v":-5.36},{"c":"Chain 3","t":0.87,"v":-6.00},{"c":"Chain 3","t":0.88,"v":-5.22},{"c":"Chain 3","t":0.89,"v":-5.92},
{"c":"Chain 3","t":0.9,"v":-5.28},{"c":"Chain 3","t":0.91,"v":-5.86},{"c":"Chain 3","t":0.92,"v":-5.16},{"c":"Chain 3","t":0.93,"v":-5.98},{"c":"Chain 3","t":0.94,"v":-5.32},{"c":"Chain 3","t":0.95,"v":-6.02},{"c":"Chain 3","t":0.96,"v":-5.20},{"c":"Chain 3","t":0.97,"v":-5.94},{"c":"Chain 3","t":0.98,"v":-5.26},{"c":"Chain 3","t":0.99,"v":-4.90},
{"c":"Chain 3","t":1,"v":-5.96},{"c":"Chain 3","t":1.01,"v":-5.30},{"c":"Chain 3","t":1.02,"v":-6.04},{"c":"Chain 3","t":1.03,"v":-5.18},{"c":"Chain 3","t":1.04,"v":-5.88},{"c":"Chain 3","t":1.05,"v":-5.34},{"c":"Chain 3","t":1.06,"v":-5.98},{"c":"Chain 3","t":1.07,"v":-5.22},{"c":"Chain 3","t":1.08,"v":-5.92},{"c":"Chain 3","t":1.09,"v":-5.28},
{"c":"Chain 3","t":1.1,"v":-6.02},{"c":"Chain 3","t":1.11,"v":-5.16},{"c":"Chain 3","t":1.12,"v":-5.90},{"c":"Chain 3","t":1.13,"v":-5.32},{"c":"Chain 3","t":1.14,"v":-5.96},{"c":"Chain 3","t":1.15,"v":-5.24},{"c":"Chain 3","t":1.16,"v":-5.86},{"c":"Chain 3","t":1.17,"v":-5.20},{"c":"Chain 3","t":1.18,"v":-6.04},{"c":"Chain 3","t":1.19,"v":-5.30},
{"c":"Chain 3","t":1.2,"v":-5.94},{"c":"Chain 3","t":1.21,"v":-5.18},{"c":"Chain 3","t":1.22,"v":-5.88},{"c":"Chain 3","t":1.23,"v":-5.36},{"c":"Chain 3","t":1.24,"v":-6.00},{"c":"Chain 3","t":1.25,"v":-5.22},{"c":"Chain 3","t":1.26,"v":-5.92},{"c":"Chain 3","t":1.27,"v":-5.28},{"c":"Chain 3","t":1.28,"v":-5.98},{"c":"Chain 3","t":1.29,"v":-5.14},
{"c":"Chain 3","t":1.3,"v":-5.90},{"c":"Chain 3","t":1.31,"v":-5.30},{"c":"Chain 3","t":1.32,"v":-6.04},{"c":"Chain 3","t":1.33,"v":-5.24},{"c":"Chain 3","t":1.34,"v":-5.86},{"c":"Chain 3","t":1.35,"v":-5.32},{"c":"Chain 3","t":1.36,"v":-5.96},{"c":"Chain 3","t":1.37,"v":-5.18},{"c":"Chain 3","t":1.38,"v":-6.02},{"c":"Chain 3","t":1.39,"v":-5.26},
{"c":"Chain 3","t":1.4,"v":-5.92},{"c":"Chain 3","t":1.41,"v":-5.34},{"c":"Chain 3","t":1.42,"v":-5.98},{"c":"Chain 3","t":1.43,"v":-5.20},{"c":"Chain 3","t":1.44,"v":-5.88},{"c":"Chain 3","t":1.45,"v":-5.28},{"c":"Chain 3","t":1.46,"v":-6.04},{"c":"Chain 3","t":1.47,"v":-5.16},{"c":"Chain 3","t":1.48,"v":-4.94},{"c":"Chain 3","t":1.49,"v":-5.90},
{"c":"Chain 3","t":1.5,"v":-5.30},{"c":"Chain 3","t":1.51,"v":-5.96},{"c":"Chain 3","t":1.52,"v":-5.22},{"c":"Chain 3","t":1.53,"v":-6.22},{"c":"Chain 3","t":1.54,"v":-5.34},{"c":"Chain 3","t":1.55,"v":-5.88},{"c":"Chain 3","t":1.56,"v":-5.18},{"c":"Chain 3","t":1.57,"v":-6.00},{"c":"Chain 3","t":1.58,"v":-5.26},{"c":"Chain 3","t":1.59,"v":-5.92},
{"c":"Chain 3","t":1.6,"v":-5.32},{"c":"Chain 3","t":1.61,"v":-5.98},{"c":"Chain 3","t":1.62,"v":-5.20},{"c":"Chain 3","t":1.63,"v":-5.86},{"c":"Chain 3","t":1.64,"v":-5.28},{"c":"Chain 3","t":1.65,"v":-6.04},{"c":"Chain 3","t":1.66,"v":-5.16},{"c":"Chain 3","t":1.67,"v":-5.94},{"c":"Chain 3","t":1.68,"v":-5.30},{"c":"Chain 3","t":1.69,"v":-5.90},
{"c":"Chain 3","t":1.7,"v":-5.24},{"c":"Chain 3","t":1.71,"v":-6.02},{"c":"Chain 3","t":1.72,"v":-5.34},{"c":"Chain 3","t":1.73,"v":-5.88},{"c":"Chain 3","t":1.74,"v":-5.18},{"c":"Chain 3","t":1.75,"v":-5.96},{"c":"Chain 3","t":1.76,"v":-5.26},{"c":"Chain 3","t":1.77,"v":-4.94},{"c":"Chain 3","t":1.78,"v":-5.92},{"c":"Chain 3","t":1.79,"v":-5.30},
{"c":"Chain 3","t":1.8,"v":-6.00},{"c":"Chain 3","t":1.81,"v":-5.22},{"c":"Chain 3","t":1.82,"v":-5.90},{"c":"Chain 3","t":1.83,"v":-5.32},{"c":"Chain 3","t":1.84,"v":-5.98},{"c":"Chain 3","t":1.85,"v":-5.16},{"c":"Chain 3","t":1.86,"v":-6.04},{"c":"Chain 3","t":1.87,"v":-5.28},{"c":"Chain 3","t":1.88,"v":-5.88},{"c":"Chain 3","t":1.89,"v":-5.20},
{"c":"Chain 3","t":1.9,"v":-5.96},{"c":"Chain 3","t":1.91,"v":-5.34},{"c":"Chain 3","t":1.92,"v":-5.92},{"c":"Chain 3","t":1.93,"v":-5.24},{"c":"Chain 3","t":1.94,"v":-6.02},{"c":"Chain 3","t":1.95,"v":-5.18},{"c":"Chain 3","t":1.96,"v":-5.86},{"c":"Chain 3","t":1.97,"v":-5.30},{"c":"Chain 3","t":1.98,"v":-5.98},{"c":"Chain 3","t":1.99,"v":-5.26},
{"c":"Chain 3","t":2,"v":-6.04},{"c":"Chain 3","t":2.01,"v":-5.16},{"c":"Chain 3","t":2.02,"v":-5.90},{"c":"Chain 3","t":2.03,"v":-5.32},{"c":"Chain 3","t":2.04,"v":-5.94},{"c":"Chain 3","t":2.05,"v":-5.22},{"c":"Chain 3","t":2.06,"v":-6.00},{"c":"Chain 3","t":2.07,"v":-5.28},{"c":"Chain 3","t":2.08,"v":-5.88},{"c":"Chain 3","t":2.09,"v":-5.20},
{"c":"Chain 3","t":2.1,"v":-5.96},{"c":"Chain 3","t":2.11,"v":-5.30},{"c":"Chain 3","t":2.12,"v":-6.02},{"c":"Chain 3","t":2.13,"v":-5.24},{"c":"Chain 3","t":2.14,"v":-5.92},{"c":"Chain 3","t":2.15,"v":-5.34},{"c":"Chain 3","t":2.16,"v":-5.86},{"c":"Chain 3","t":2.17,"v":-6.15},{"c":"Chain 3","t":2.18,"v":-5.18},{"c":"Chain 3","t":2.19,"v":-5.98},
{"c":"Chain 3","t":2.2,"v":-5.28},{"c":"Chain 3","t":2.21,"v":-5.90},{"c":"Chain 3","t":2.22,"v":-5.22},{"c":"Chain 3","t":2.23,"v":-6.04},{"c":"Chain 3","t":2.24,"v":-5.32},{"c":"Chain 3","t":2.25,"v":-6.42},{"c":"Chain 3","t":2.26,"v":-5.20},{"c":"Chain 3","t":2.27,"v":-5.94},{"c":"Chain 3","t":2.28,"v":-5.26},{"c":"Chain 3","t":2.29,"v":-5.88},
{"c":"Chain 3","t":2.3,"v":-5.34},{"c":"Chain 3","t":2.31,"v":-6.00},{"c":"Chain 3","t":2.32,"v":-5.18},{"c":"Chain 3","t":2.33,"v":-5.92},{"c":"Chain 3","t":2.34,"v":-5.28},{"c":"Chain 3","t":2.35,"v":-5.98},{"c":"Chain 3","t":2.36,"v":-5.24},{"c":"Chain 3","t":2.37,"v":-6.04},{"c":"Chain 3","t":2.38,"v":-5.16},{"c":"Chain 3","t":2.39,"v":-5.90},
{"c":"Chain 3","t":2.4,"v":-5.30},{"c":"Chain 3","t":2.41,"v":-5.96},{"c":"Chain 3","t":2.42,"v":-5.22},{"c":"Chain 3","t":2.43,"v":-5.88},{"c":"Chain 3","t":2.44,"v":-5.34},{"c":"Chain 3","t":2.45,"v":-6.02},{"c":"Chain 3","t":2.46,"v":-5.20},{"c":"Chain 3","t":2.47,"v":-5.94},{"c":"Chain 3","t":2.48,"v":-5.28},{"c":"Chain 3","t":2.49,"v":-5.86},
{"c":"Chain 3","t":2.5,"v":-5.18},{"c":"Chain 3","t":2.51,"v":-6.04},{"c":"Chain 3","t":2.52,"v":-5.26},{"c":"Chain 3","t":2.53,"v":-5.92},{"c":"Chain 3","t":2.54,"v":-5.32},{"c":"Chain 3","t":2.55,"v":-5.98},{"c":"Chain 3","t":2.56,"v":-5.22},{"c":"Chain 3","t":2.57,"v":-5.90},{"c":"Chain 3","t":2.58,"v":-4.88},{"c":"Chain 3","t":2.59,"v":-5.96},
{"c":"Chain 3","t":2.6,"v":-5.28},{"c":"Chain 3","t":2.61,"v":-5.88},{"c":"Chain 3","t":2.62,"v":-5.20},{"c":"Chain 3","t":2.63,"v":-6.02},{"c":"Chain 3","t":2.64,"v":-5.34},{"c":"Chain 3","t":2.65,"v":-5.94},{"c":"Chain 3","t":2.66,"v":-5.16},{"c":"Chain 3","t":2.67,"v":-5.98},{"c":"Chain 3","t":2.68,"v":-5.26},{"c":"Chain 3","t":2.69,"v":-5.90},
{"c":"Chain 3","t":2.7,"v":-6.28},{"c":"Chain 3","t":2.71,"v":-5.24},{"c":"Chain 3","t":2.72,"v":-5.96},{"c":"Chain 3","t":2.73,"v":-5.30},{"c":"Chain 3","t":2.74,"v":-5.88},{"c":"Chain 3","t":2.75,"v":-5.18},{"c":"Chain 3","t":2.76,"v":-6.04},{"c":"Chain 3","t":2.77,"v":-5.28},{"c":"Chain 3","t":2.78,"v":-5.92},{"c":"Chain 3","t":2.79,"v":-5.22},
{"c":"Chain 3","t":2.8,"v":-5.98},{"c":"Chain 3","t":2.81,"v":-5.34},{"c":"Chain 3","t":2.82,"v":-5.86},{"c":"Chain 3","t":2.83,"v":-5.20},{"c":"Chain 3","t":2.84,"v":-6.02},{"c":"Chain 3","t":2.85,"v":-5.26},{"c":"Chain 3","t":2.86,"v":-5.94},{"c":"Chain 3","t":2.87,"v":-5.32},{"c":"Chain 3","t":2.88,"v":-5.90},{"c":"Chain 3","t":2.89,"v":-5.16},
{"c":"Chain 3","t":2.9,"v":-6.04},{"c":"Chain 3","t":2.91,"v":-5.28},{"c":"Chain 3","t":2.92,"v":-5.92},{"c":"Chain 3","t":2.93,"v":-5.22},{"c":"Chain 3","t":2.94,"v":-5.96},{"c":"Chain 3","t":2.95,"v":-5.34},{"c":"Chain 3","t":2.96,"v":-5.88},{"c":"Chain 3","t":2.97,"v":-4.92},{"c":"Chain 3","t":2.98,"v":-5.94},{"c":"Chain 3","t":2.99,"v":-5.30},
{"c":"Chain 3","t":3,"v":-6.00},{"c":"Chain 3","t":3.01,"v":-5.18},{"c":"Chain 3","t":3.02,"v":-5.90},{"c":"Chain 3","t":3.03,"v":-5.26},{"c":"Chain 3","t":3.04,"v":-5.98},{"c":"Chain 3","t":3.05,"v":-5.32},{"c":"Chain 3","t":3.06,"v":-5.86},{"c":"Chain 3","t":3.07,"v":-5.20},{"c":"Chain 3","t":3.08,"v":-6.04},{"c":"Chain 3","t":3.09,"v":-5.28},
{"c":"Chain 3","t":3.1,"v":-5.92},{"c":"Chain 3","t":3.11,"v":-5.24},{"c":"Chain 3","t":3.12,"v":-5.96},{"c":"Chain 3","t":3.13,"v":-5.34},{"c":"Chain 3","t":3.14,"v":-5.88},{"c":"Chain 3","t":3.15,"v":-5.16},{"c":"Chain 3","t":3.16,"v":-6.02},{"c":"Chain 3","t":3.17,"v":-5.30},{"c":"Chain 3","t":3.18,"v":-5.94},{"c":"Chain 3","t":3.19,"v":-5.22},
{"c":"Chain 3","t":3.2,"v":-5.90},{"c":"Chain 3","t":3.21,"v":-6.24},{"c":"Chain 3","t":3.22,"v":-5.28},{"c":"Chain 3","t":3.23,"v":-5.98},{"c":"Chain 3","t":3.24,"v":-5.20},{"c":"Chain 3","t":3.25,"v":-5.92},{"c":"Chain 3","t":3.26,"v":-5.32},{"c":"Chain 3","t":3.27,"v":-6.04},{"c":"Chain 3","t":3.28,"v":-5.18},{"c":"Chain 3","t":3.29,"v":-5.88},
{"c":"Chain 3","t":3.3,"v":-5.26},{"c":"Chain 3","t":3.31,"v":-5.96},{"c":"Chain 3","t":3.32,"v":-5.34},{"c":"Chain 3","t":3.33,"v":-5.90},{"c":"Chain 3","t":3.34,"v":-5.22},{"c":"Chain 3","t":3.35,"v":-6.00},{"c":"Chain 3","t":3.36,"v":-5.28},{"c":"Chain 3","t":3.37,"v":-6.15},{"c":"Chain 3","t":3.38,"v":-5.20},{"c":"Chain 3","t":3.39,"v":-5.94},
{"c":"Chain 3","t":3.4,"v":-5.30},{"c":"Chain 3","t":3.41,"v":-5.88},{"c":"Chain 3","t":3.42,"v":-5.24},{"c":"Chain 3","t":3.43,"v":-6.02},{"c":"Chain 3","t":3.44,"v":-5.18},{"c":"Chain 3","t":3.45,"v":-5.96},{"c":"Chain 3","t":3.46,"v":-5.32},{"c":"Chain 3","t":3.47,"v":-5.90},{"c":"Chain 3","t":3.48,"v":-5.26},{"c":"Chain 3","t":3.49,"v":-5.98},
{"c":"Chain 3","t":3.5,"v":-5.62}
],
"hist": [
{"c":"Chain 1","x":-6.2154,"n":2},{"c":"Chain 1","x":-6.1615,"n":6},{"c":"Chain 1","x":-6.1077,"n":21},{"c":"Chain 1","x":-6.0538,"n":22},{"c":"Chain 1","x":-6.0,"n":30},{"c":"Chain 1","x":-5.9462,"n":62},{"c":"Chain 1","x":-5.8923,"n":70},{"c":"Chain 1","x":-5.8385,"n":103},{"c":"Chain 1","x":-5.7846,"n":155},{"c":"Chain 1","x":-5.7308,"n":191},{"c":"Chain 1","x":-5.6769,"n":185},{"c":"Chain 1","x":-5.6231,"n":180},{"c":"Chain 1","x":-5.5692,"n":178},{"c":"Chain 1","x":-5.5154,"n":165},{"c":"Chain 1","x":-5.4615,"n":158},{"c":"Chain 1","x":-5.4077,"n":137},{"c":"Chain 1","x":-5.3538,"n":117},{"c":"Chain 1","x":-5.3,"n":85},{"c":"Chain 1","x":-5.2462,"n":58},{"c":"Chain 1","x":-5.1923,"n":36},{"c":"Chain 1","x":-5.1385,"n":22},{"c":"Chain 1","x":-5.0846,"n":12},{"c":"Chain 1","x":-5.0308,"n":3},{"c":"Chain 1","x":-4.9769,"n":1},{"c":"Chain 1","x":-4.9231,"n":0},
{"c":"Chain 2","x":-6.2154,"n":8},{"c":"Chain 2","x":-6.1615,"n":12},{"c":"Chain 2","x":-6.1077,"n":14},{"c":"Chain 2","x":-6.0538,"n":20},{"c":"Chain 2","x":-6.0,"n":36},{"c":"Chain 2","x":-5.9462,"n":50},{"c":"Chain 2","x":-5.8923,"n":70},{"c":"Chain 2","x":-5.8385,"n":105},{"c":"Chain 2","x":-5.7846,"n":137},{"c":"Chain 2","x":-5.7308,"n":174},{"c":"Chain 2","x":-5.6769,"n":150},{"c":"Chain 2","x":-5.6231,"n":215},{"c":"Chain 2","x":-5.5692,"n":205},{"c":"Chain 2","x":-5.5154,"n":174},{"c":"Chain 2","x":-5.4615,"n":160},{"c":"Chain 2","x":-5.4077,"n":137},{"c":"Chain 2","x":-5.3538,"n":117},{"c":"Chain 2","x":-5.3,"n":90},{"c":"Chain 2","x":-5.2462,"n":62},{"c":"Chain 2","x":-5.1923,"n":39},{"c":"Chain 2","x":-5.1385,"n":22},{"c":"Chain 2","x":-5.0846,"n":14},{"c":"Chain 2","x":-5.0308,"n":3},{"c":"Chain 2","x":-4.9769,"n":0},{"c":"Chain 2","x":-4.9231,"n":0},
{"c":"Chain 3","x":-6.2154,"n":4},{"c":"Chain 3","x":-6.1615,"n":8},{"c":"Chain 3","x":-6.1077,"n":18},{"c":"Chain 3","x":-6.0538,"n":25},{"c":"Chain 3","x":-6.0,"n":33},{"c":"Chain 3","x":-5.9462,"n":45},{"c":"Chain 3","x":-5.8923,"n":60},{"c":"Chain 3","x":-5.8385,"n":110},{"c":"Chain 3","x":-5.7846,"n":140},{"c":"Chain 3","x":-5.7308,"n":154},{"c":"Chain 3","x":-5.6769,"n":154},{"c":"Chain 3","x":-5.6231,"n":203},{"c":"Chain 3","x":-5.5692,"n":203},{"c":"Chain 3","x":-5.5154,"n":164},{"c":"Chain 3","x":-5.4615,"n":165},{"c":"Chain 3","x":-5.4077,"n":137},{"c":"Chain 3","x":-5.3538,"n":117},{"c":"Chain 3","x":-5.3,"n":88},{"c":"Chain 3","x":-5.2462,"n":61},{"c":"Chain 3","x":-5.1923,"n":36},{"c":"Chain 3","x":-5.1385,"n":23},{"c":"Chain 3","x":-5.0846,"n":14},{"c":"Chain 3","x":-5.0308,"n":5},{"c":"Chain 3","x":-4.9769,"n":8},{"c":"Chain 3","x":-4.9231,"n":0}
]
},
"hconcat": [
{
  "width": 469, "height": 405,
  "data": {"name": "trace"},
  "layer": [
    {
      "mark": {"type": "line", "clip": true},
      "encoding": {
        "x": {"field": "t", "type": "quantitative", "scale": {"domain": [-0.1, 3.6], "nice": false, "zero": false},
              "axis": {"orient": "bottom", "values": [0,0.5,1,1.5,2,2.5,3,3.5], "format": "~g", "tickSize": -8, "labelPadding": 5, "title": "t(× 10⁻⁴)", "titlePadding": 7, "minExtent": 24, "maxExtent": 24}},
        "y": {"field": "v", "type": "quantitative", "scale": {"domain": [-6.5, -4.0], "nice": false, "zero": false},
              "axis": {"orient": "left", "values": [-6.5,-6,-5.5,-5,-4.5,-4], "labelExpr": "(datum.value < 0 ? '-' : '') + format(abs(datum.value), '.1f')", "tickSize": -8, "labelPadding": 6, "title": "Bg(× 10²)", "titlePadding": 7, "minExtent": 40, "maxExtent": 40}},
        "color": {"field": "c", "type": "nominal", "scale": {"domain": ["Chain 1","Chain 2","Chain 3"], "range": ["#ff0000","#008000","#0000ff"]},
                  "legend": {"title": null, "orient": "top-right", "offset": 10, "padding": 9, "rowPadding": 11, "strokeColor": "black", "fillColor": "white", "cornerRadius": 0, "labelFont": "DejaVu Sans", "labelFontSize": 20, "labelColor": "black", "labelOffset": 23.5, "labelLimit": 300, "symbolType": "M-1.5,0H1.5", "symbolSize": 400, "symbolOffset": 7.5}},
        "strokeDash": {"field": "c", "type": "nominal", "scale": {"domain": ["Chain 1","Chain 2","Chain 3"], "range": [[4,4,2,4],[1,0],[2,1.5]]}},
        "strokeWidth": {"field": "c", "type": "nominal", "scale": {"domain": ["Chain 1","Chain 2","Chain 3"], "range": [2,3,2]}}
      }
    },
    {
      "mark": {"type": "point", "opacity": 0},
      "encoding": {
        "x": {"field": "t", "type": "quantitative", "scale": {"domain": [-0.1, 3.6], "nice": false, "zero": false},
              "axis": {"orient": "bottom", "values": [-0.1,0,0.1,0.2,0.3,0.4,0.5,0.6,0.7,0.8,0.9,1,1.1,1.2,1.3,1.4,1.5,1.6,1.7,1.8,1.9,2,2.1,2.2,2.3,2.4,2.5,2.6,2.7,2.8,2.9,3,3.1,3.2,3.3,3.4,3.5,3.6], "labels": false, "tickSize": -4, "title": null}},
        "y": {"field": "v", "type": "quantitative", "scale": {"domain": [-6.5, -4.0], "nice": false, "zero": false},
              "axis": {"orient": "left", "values": [-6.5,-6.4,-6.3,-6.2,-6.1,-6,-5.9,-5.8,-5.7,-5.6,-5.5,-5.4,-5.3,-5.2,-5.1,-5,-4.9,-4.8,-4.7,-4.6,-4.5,-4.4,-4.3,-4.2,-4.1,-4], "labels": false, "tickSize": -4, "title": null}}
      }
    },
    {
      "mark": {"type": "point", "opacity": 0},
      "encoding": {
        "x": {"field": "t", "type": "quantitative", "scale": {"domain": [-0.1, 3.6], "nice": false, "zero": false},
              "axis": {"orient": "top", "values": [0,0.5,1,1.5,2,2.5,3,3.5], "labels": false, "tickSize": -8, "title": null}},
        "y": {"field": "v", "type": "quantitative", "scale": {"domain": [-6.5, -4.0], "nice": false, "zero": false},
              "axis": {"orient": "right", "values": [-6.5,-6,-5.5,-5,-4.5,-4], "labels": false, "tickSize": -8, "title": null}}
      }
    },
    {
      "mark": {"type": "point", "opacity": 0},
      "encoding": {
        "x": {"field": "t", "type": "quantitative", "scale": {"domain": [-0.1, 3.6], "nice": false, "zero": false},
              "axis": {"orient": "top", "values": [-0.1,0,0.1,0.2,0.3,0.4,0.5,0.6,0.7,0.8,0.9,1,1.1,1.2,1.3,1.4,1.5,1.6,1.7,1.8,1.9,2,2.1,2.2,2.3,2.4,2.5,2.6,2.7,2.8,2.9,3,3.1,3.2,3.3,3.4,3.5,3.6], "labels": false, "tickSize": -4, "title": null}},
        "y": {"field": "v", "type": "quantitative", "scale": {"domain": [-6.5, -4.0], "nice": false, "zero": false},
              "axis": {"orient": "right", "values": [-6.5,-6.4,-6.3,-6.2,-6.1,-6,-5.9,-5.8,-5.7,-5.6,-5.5,-5.4,-5.3,-5.2,-5.1,-5,-4.9,-4.8,-4.7,-4.6,-4.5,-4.4,-4.3,-4.2,-4.1,-4], "labels": false, "tickSize": -4, "title": null}}
      }
    }
  ],
  "resolve": {"axis": {"x": "independent", "y": "independent"}}
},
{
  "width": 469, "height": 405,
  "data": {"name": "hist"},
  "layer": [
    {
      "mark": {"type": "area", "interpolate": "step-after", "stroke": "black", "strokeWidth": 1.2, "fillOpacity": 1, "clip": true},
      "encoding": {
        "x": {"field": "x", "type": "quantitative", "scale": {"domain": [-8.2, -1], "nice": false, "zero": false},
              "axis": {"orient": "bottom", "values": [-8,-7,-6,-5,-4,-3,-2,-1], "labelExpr": "(datum.value < 0 ? '-' : '') + format(abs(datum.value), 'd')", "tickSize": -8, "labelPadding": 5, "title": "Bg(× 10²)", "titlePadding": 7, "minExtent": 24, "maxExtent": 24}},
        "y": {"field": "n", "type": "quantitative", "stack": null, "scale": {"domain": [0, 250], "nice": false, "zero": false},
              "axis": {"orient": "left", "values": [0,50,100,150,200,250], "tickSize": -8, "labelPadding": 6, "title": null}},
        "fill": {"field": "c", "type": "nominal", "scale": {"domain": ["Chain 1","Chain 2","Chain 3"], "range": ["#ff0000","#008000","#0000ff"]},
                 "legend": {"title": null, "orient": "top-right", "offset": 10, "padding": 9, "rowPadding": 11, "strokeColor": "black", "fillColor": "white", "cornerRadius": 0, "labelFont": "DejaVu Sans", "labelFontSize": 20, "labelColor": "black", "labelOffset": 24.5, "labelLimit": 300, "symbolType": "M-2,-0.7H2V0.7H-2Z", "symbolSize": 400, "symbolOffset": 7.5, "symbolStrokeColor": "black", "symbolStrokeWidth": 1}},
        "strokeDash": {"field": "c", "type": "nominal", "scale": {"domain": ["Chain 1","Chain 2","Chain 3"], "range": [[5,3],[1,0],[2,1.5]]}}
      }
    },
    {
      "mark": {"type": "point", "opacity": 0},
      "encoding": {
        "x": {"field": "x", "type": "quantitative", "scale": {"domain": [-8.2, -1], "nice": false, "zero": false},
              "axis": {"orient": "bottom", "values": [-8.2,-8,-7.8,-7.6,-7.4,-7.2,-7,-6.8,-6.6,-6.4,-6.2,-6,-5.8,-5.6,-5.4,-5.2,-5,-4.8,-4.6,-4.4,-4.2,-4,-3.8,-3.6,-3.4,-3.2,-3,-2.8,-2.6,-2.4,-2.2,-2,-1.8,-1.6,-1.4,-1.2,-1], "labels": false, "tickSize": -4, "title": null}},
        "y": {"field": "n", "type": "quantitative", "scale": {"domain": [0, 250], "nice": false, "zero": false},
              "axis": {"orient": "left", "values": [0,10,20,30,40,50,60,70,80,90,100,110,120,130,140,150,160,170,180,190,200,210,220,230,240,250], "labels": false, "tickSize": -4, "title": null}}
      }
    },
    {
      "mark": {"type": "point", "opacity": 0},
      "encoding": {
        "x": {"field": "x", "type": "quantitative", "scale": {"domain": [-8.2, -1], "nice": false, "zero": false},
              "axis": {"orient": "top", "values": [-8,-7,-6,-5,-4,-3,-2,-1], "labels": false, "tickSize": -8, "title": null}},
        "y": {"field": "n", "type": "quantitative", "scale": {"domain": [0, 250], "nice": false, "zero": false},
              "axis": {"orient": "right", "values": [0,50,100,150,200,250], "labels": false, "tickSize": -8, "title": null}}
      }
    },
    {
      "mark": {"type": "point", "opacity": 0},
      "encoding": {
        "x": {"field": "x", "type": "quantitative", "scale": {"domain": [-8.2, -1], "nice": false, "zero": false},
              "axis": {"orient": "top", "values": [-8.2,-8,-7.8,-7.6,-7.4,-7.2,-7,-6.8,-6.6,-6.4,-6.2,-6,-5.8,-5.6,-5.4,-5.2,-5,-4.8,-4.6,-4.4,-4.2,-4,-3.8,-3.6,-3.4,-3.2,-3,-2.8,-2.6,-2.4,-2.2,-2,-1.8,-1.6,-1.4,-1.2,-1], "labels": false, "tickSize": -4, "title": null}},
        "y": {"field": "n", "type": "quantitative", "scale": {"domain": [0, 250], "nice": false, "zero": false},
              "axis": {"orient": "right", "values": [0,10,20,30,40,50,60,70,80,90,100,110,120,130,140,150,160,170,180,190,200,210,220,230,240,250], "labels": false, "tickSize": -4, "title": null}}
      }
    }
  ],
  "resolve": {"axis": {"x": "independent", "y": "independent"}}
}
]
}
